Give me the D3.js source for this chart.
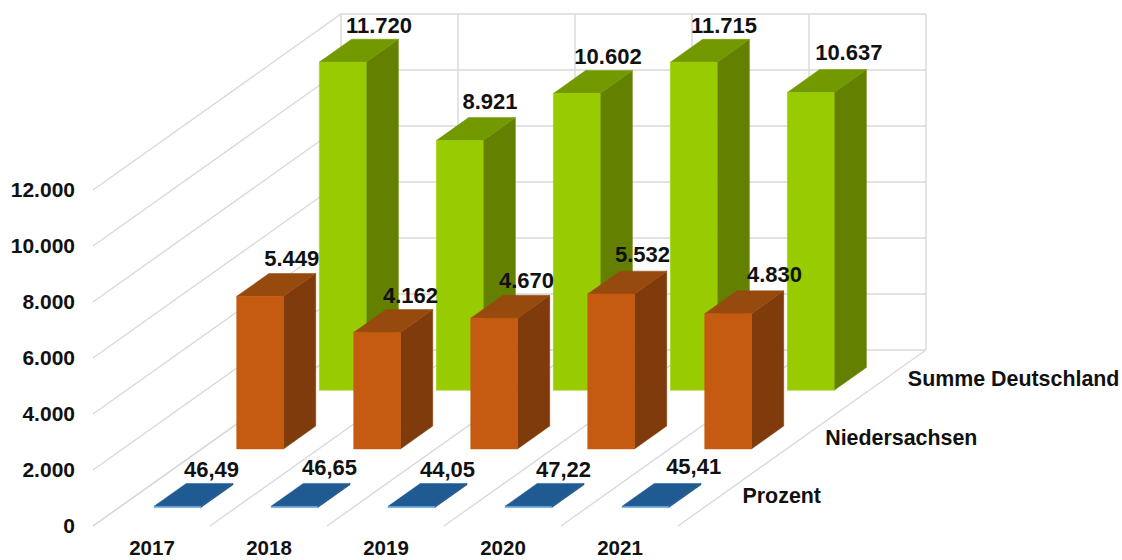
<!DOCTYPE html>
<html lang="de">
<head>
    <meta charset="UTF-8">
    <title>3D Balkendiagramm</title>
    <style>
        body { background-color: #ffffff; margin: 0; overflow: hidden; }
        svg { display: block; }
        text { font-family: "Liberation Sans", Arial, sans-serif; font-weight: bold; fill: #111111; }
        .value-axis text { font-size: 21px; }
        .year-axis text { font-size: 20.5px; }
        .value-label { font-size: 22px; text-anchor: middle; }
        .series-label { font-size: 21.4px; }
        .grid { fill: none; stroke: #d9d9d9; stroke-width: 1.4; }
    </style>
</head>
<body>
    <svg id="chart" width="1122" height="560"></svg>

    <script src="https://d3js.org/d3.v7.min.js"></script>
    <script>
        const years = ["2017", "2018", "2019", "2020", "2021"];
        const seriesNames = ["Prozent", "Niedersachsen", "Summe Deutschland"];
        const prozent = [46.49, 46.65, 44.05, 47.22, 45.41];
        const niedersachsen = [5449, 4162, 4670, 5532, 4830];
        const deutschland = [11720, 8921, 10602, 11715, 10637];
        const yTicks = [0, 2000, 4000, 6000, 8000, 10000, 12000];

        // layout of the fake 3D box
        const floorY = 526, wallH = 336, depthH = 176, depthRatio = 248 / 176;

        const colors = {
            "Prozent": { front: "#5b9bd5", side: "#174a78", top: "#1f5a92" },
            "Niedersachsen": { front: "#c55a11", side: "#7f3b0b", top: "#974a0e" },
            "Summe Deutschland": { front: "#99cc00", side: "#648000", top: "#739900" }
        };

        // hand placed offsets of the data labels, the original has them moved around
        const labelNudge = {
            "Prozent": [[1.8, -6.4], [2.8, -8.4], [3.8, -6], [2.8, -6], [16, -9.4]],
            "Niedersachsen": [[-0.6, -7], [1.2, -7], [0.2, -7], [-0.8, -9], [14.2, -8.6]],
            "Summe Deutschland": [[4, -5.9], [-2, -8.6], [-1, -6.5], [-2, -6], [5.8, -9.6]]
        };

        const de = d3.formatLocale({ decimal: ",", thousands: ".", grouping: [3], currency: ["", " €"] });
        const fmtInt = de.format(",d");
        const fmtPct = de.format(".2f");

        const svg = d3.select("#chart");

        const x = d3.scaleBand().domain(years).range([93, 678]).paddingInner(0.6).paddingOuter(0.3);
        const z = d3.scaleBand().domain(seriesNames).range([0.5, 176.5]).paddingInner(0.61).paddingOuter(0.305);
        const h = d3.scaleLinear().domain([0, 12000]).range([0, wallH]);
        const yAxisScale = d3.scaleLinear().domain([0, 12000]).range([floorY, floorY - wallH]);

        // screen position of a point on the box: px along x, value up, px of depth
        function pt(px, value, depth) {
            return [px + depth * depthRatio, floorY - depth - h(value)];
        }

        const poly = d3.line();
        const closed = pts => poly(pts) + "Z";

        // grid on the walls and the floor
        const grid = svg.append("g").attr("class", "grid");
        const left = x.range()[0], right = x.range()[1];

        grid.selectAll(".wall-h").data(yTicks).join("path")
            .attr("d", v => poly([pt(left, v, 0), pt(left, v, depthH), pt(right, v, depthH)]));

        const xEdges = d3.range(years.length + 1).map(i => left + i * x.step());
        grid.selectAll(".wall-v").data(xEdges).join("path")
            .attr("d", e => poly([pt(e, 0, depthH), pt(e, 12000, depthH)]));
        grid.selectAll(".floor").data(xEdges).join("path")
            .attr("d", e => poly([pt(e, 0, 0), pt(e, 0, depthH)]));

        // boxes, back row first so the front rows cover it
        const rows = [
            { name: "Summe Deutschland", values: deutschland, fmt: fmtInt },
            { name: "Niedersachsen", values: niedersachsen, fmt: fmtInt },
            { name: "Prozent", values: prozent, fmt: fmtPct }
        ];

        rows.forEach(row => {
            const c = colors[row.name];
            const z0 = z(row.name), z1 = z0 + z.bandwidth();
            const g = svg.append("g");
            const bars = years.map((yr, i) => ({ x0: x(yr), x1: x(yr) + x.bandwidth(), v: row.values[i] }));

            g.selectAll(".side").data(bars).join("path")
                .attr("fill", c.side).attr("stroke", c.side).attr("stroke-width", 0.5)
                .attr("d", d => closed([pt(d.x1, 0, z0), pt(d.x1, 0, z1), pt(d.x1, d.v, z1), pt(d.x1, d.v, z0)]));
            g.selectAll(".top").data(bars).join("path")
                .attr("fill", c.top).attr("stroke", c.top).attr("stroke-width", 0.5)
                .attr("d", d => closed([pt(d.x0, d.v, z0), pt(d.x1, d.v, z0), pt(d.x1, d.v, z1), pt(d.x0, d.v, z1)]));
            g.selectAll(".front").data(bars).join("path")
                .attr("fill", c.front).attr("stroke", c.front).attr("stroke-width", 0.5)
                .attr("d", d => closed([pt(d.x0, 0, z0), pt(d.x1, 0, z0), pt(d.x1, d.v, z0), pt(d.x0, d.v, z0)]));
        });

        // data labels sit above the back edge of each box top
        rows.forEach(row => {
            const z1 = z(row.name) + z.bandwidth();
            svg.append("g").selectAll("text").data(row.values).join("text")
                .attr("class", "value-label")
                .attr("x", (v, i) => pt(x(years[i]) + x.bandwidth() / 2, v, z1)[0] + labelNudge[row.name][i][0])
                .attr("y", (v, i) => pt(0, v, z1)[1] + labelNudge[row.name][i][1])
                .text(row.fmt);
        });

        // value axis on the front left edge
        svg.append("g")
            .attr("class", "value-axis")
            .attr("transform", `translate(${left},0)`)
            .call(d3.axisLeft(yAxisScale).tickValues(yTicks).tickFormat(fmtInt).tickSize(0).tickPadding(18))
            .call(g => g.select(".domain").remove());

        // years under the floor
        svg.append("g")
            .attr("class", "year-axis")
            .attr("transform", `translate(0.5,${floorY})`)
            .call(d3.axisBottom(x).tickSize(0).tickPadding(14.5))
            .call(g => g.select(".domain").remove());

        // series names along the right floor edge
        svg.append("g").selectAll("text").data(seriesNames).join("text")
            .attr("class", "series-label")
            .attr("x", d => pt(right, 0, z(d) + z.bandwidth() / 2)[0] + 22.5)
            .attr("y", d => pt(right, 0, z(d) + z.bandwidth() / 2)[1] + 7)
            .text(d => d);
    </script>
</body>
</html>
